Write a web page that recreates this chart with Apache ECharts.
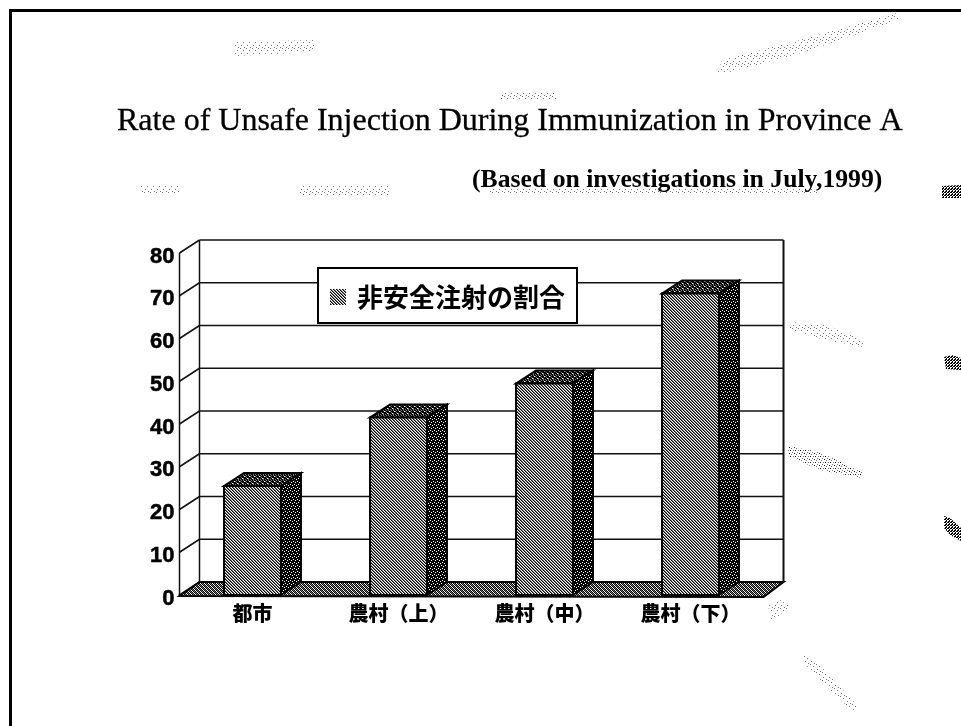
<!DOCTYPE html>
<html>
<head>
<meta charset="utf-8">
<style>
  html, body { margin: 0; padding: 0; background: #fff; }
  #chart { width: 961px; height: 726px; }
</style>
<script src="https://cdn.jsdelivr.net/npm/echarts@6/dist/echarts.min.js"></script>
</head>
<body>
<div id="chart"></div>
<script>
const categories = ["都市", "農村（上）", "農村（中）", "農村（下）"];
const unsafeRate = [25.5, 41.5, 49.5, 70.5];
const yTicks = [0, 10, 20, 30, 40, 50, 60, 70, 80];
const seriesName = "非安全注射の割合";
const titleText = "Rate of Unsafe Injection During Immunization in Province A";
const subtitleText = "(Based on investigations in July,1999)";

// 3d offset of the back wall, in pixels
const depthX = 20;
const depthY = -13;
const barShare = 0.39;

// small tiles for the printed halftone look
const makeTile = (rows, palette) => {
  const canvas = document.createElement("canvas");
  canvas.width = rows[0].length;
  canvas.height = rows.length;
  const ctx = canvas.getContext("2d");
  rows.forEach((row, y) => {
    [...row].forEach((c, x) => {
      if (palette[c]) {
        ctx.fillStyle = palette[c];
        ctx.fillRect(x, y, 1, 1);
      }
    });
  });
  return { image: canvas, repeat: "repeat" };
};

const inkOnly = { "#": "#000", "+": "#777", ".": "#fff" };
const dots = { "#": "#111", "+": "#777" };
const hatchFill = makeTile(["#+.", ".#+", "+.#"], inkOnly);
const sideFill = makeTile(["####", "#.##", "###.", "####", "##.#", ".###"], inkOnly);
const topFill = makeTile(["#+#+#", "+###.", "#+###", "##.+#", "+##+#"], inkOnly);
const floorFill = makeTile(["#.#+", "+#.#", "#+#.", ".#+#"], inkOnly);
const stippleLight = makeTile(["+     ", "      ", "   +  ", "      ", "      ", " +    ", "      ", "    + "], dots);
const stippleDark = makeTile(["#  + ", "     ", "  +  ", "    #", " +   ", "     "], dots);
const blobFill = makeTile(["#.#", ".#.", "##."], inkOnly);

const line = (x1, y1, x2, y2, width) => ({
  type: "line",
  shape: { x1, y1, x2, y2 },
  style: { stroke: "#111", lineWidth: width, fill: null },
});

const poly = (points, fill) => ({
  type: "polygon",
  shape: { points },
  style: { fill, stroke: "#000", lineWidth: 2 },
});

// back wall, left wall and floor, one pass per tick
const renderWall = (params, api) => {
  const box = params.coordSys;
  const pt = api.coord([0, api.value(1)]);
  const x0 = box.x;
  const x1 = box.x + box.width;
  const y = pt[1];
  const children = [
    line(x0, y, x0 + depthX, y + depthY, 1.5),
    line(x0 + depthX, y + depthY, x1 + depthX, y + depthY, 1.5),
  ];
  if (api.value(1) === 0) {
    const top = box.y;
    children.push(
      poly([[x0, y + 1], [x0 + depthX, y + depthY], [x1 + depthX, y + depthY], [x1, y + 2]], floorFill),
      line(x0 + depthX, top + depthY, x0 + depthX, y + depthY, 1.5),
      line(x1 + depthX, top + depthY, x1 + depthX, y + depthY, 2),
      line(x0, top, x0, y, 1.5)
    );
  }
  return { type: "group", children };
};

const renderBar = (params, api) => {
  const bottom = api.coord([api.value(0), 0]);
  const top = api.coord([api.value(0), api.value(1)]);
  const w = api.size([1, 0])[0] * barShare;
  const xl = top[0] - w / 2;
  const xr = top[0] + w / 2;
  return {
    type: "group",
    children: [
      poly([[xl, top[1]], [xr, top[1]], [xr + depthX, top[1] + depthY], [xl + depthX, top[1] + depthY]], topFill),
      poly([[xr, top[1]], [xr + depthX, top[1] + depthY], [xr + depthX, bottom[1] + depthY], [xr, bottom[1]]], sideFill),
      poly([[xl, top[1]], [xr, top[1]], [xr, bottom[1]], [xl, bottom[1]]], hatchFill),
    ],
  };
};

const speck = (points, fill) => ({
  type: "polygon",
  silent: true,
  shape: { points },
  style: { fill },
});

const chart = echarts.init(document.getElementById("chart"));

chart.setOption({
  animation: false,
  backgroundColor: "#fff",
  title: [
    {
      text: titleText,
      left: 117,
      top: 106,
      padding: 0,
      textStyle: {
        fontFamily: "Liberation Serif",
        fontSize: 32,
        fontWeight: "normal",
        color: "#000",
        textBorderColor: "#000",
        textBorderWidth: 0.3,
      },
    },
    {
      text: subtitleText,
      left: 472,
      top: 167,
      padding: 0,
      textStyle: { fontFamily: "Liberation Serif", fontSize: 25.7, fontWeight: "bold", color: "#000" },
    },
  ],
  legend: {
    left: 318,
    top: 268,
    padding: [16, 12, 13, 12],
    backgroundColor: "#fff",
    borderColor: "#000",
    borderWidth: 2,
    itemWidth: 16,
    itemHeight: 16,
    itemGap: 0,
    data: [{ name: seriesName, icon: "rect", itemStyle: { color: hatchFill } }],
    textStyle: {
      fontFamily: "Noto Sans CJK JP",
      fontSize: 26,
      fontWeight: "bold",
      color: "#000",
      padding: [0, 0, 0, 6],
    },
  },
  grid: { left: 179.5, top: 253, width: 584, height: 342 },
  xAxis: {
    type: "category",
    data: categories,
    axisTick: { show: false },
    axisLine: { show: true, lineStyle: { color: "#000", width: 2 } },
    axisLabel: {
      margin: 8,
      interval: 0,
      fontFamily: "Noto Sans CJK JP",
      fontSize: 20,
      fontWeight: 900,
      color: "#000",
    },
  },
  yAxis: {
    type: "value",
    min: 0,
    max: 80,
    interval: 10,
    axisLine: { show: false },
    axisTick: { show: false },
    splitLine: { show: false },
    axisLabel: {
      margin: 5,
      formatter: "{n|{value}}",
      rich: {
        n: {
          padding: [7, 0, 0, 0],
          fontFamily: "Liberation Sans",
          fontSize: 22,
          fontWeight: "bold",
          color: "#000",
          textBorderColor: "#000",
          textBorderWidth: 0.5,
        },
      },
    },
  },
  series: [
    {
      name: "wall",
      type: "custom",
      silent: true,
      z: 1,
      renderItem: renderWall,
      encode: { x: 0, y: 1 },
      data: yTicks.map((v) => [0, v]),
    },
    {
      name: seriesName,
      type: "custom",
      silent: true,
      z: 2,
      itemStyle: { color: "#444" },
      renderItem: renderBar,
      encode: { x: 0, y: 1 },
      data: unsafeRate.map((v, i) => [i, v]),
    },
  ],
  graphic: [
    // page frame of the scanned slide
    { type: "rect", silent: true, shape: { x: 9, y: 9, width: 952, height: 3 }, style: { fill: "#000" } },
    { type: "rect", silent: true, shape: { x: 9, y: 9, width: 3, height: 717 }, style: { fill: "#000" } },
    // scan residue
    speck([[718, 72], [722, 60], [800, 40], [897, 13], [898, 20], [805, 52], [730, 72]], stippleLight),
    speck([[790, 322], [825, 325], [863, 340], [863, 347], [825, 340], [790, 330]], stippleLight),
    speck([[788, 446], [820, 452], [862, 472], [862, 478], [820, 470], [788, 456]], stippleDark),
    speck([[803, 655], [815, 660], [857, 705], [855, 712], [840, 700], [803, 662]], stippleLight),
    speck([[768, 606], [780, 600], [790, 606], [772, 622]], stippleLight),
    speck([[235, 42], [315, 40], [315, 52], [235, 56]], stippleLight),
    speck([[500, 92], [556, 92], [556, 100], [500, 100]], stippleLight),
    speck([[140, 186], [180, 186], [180, 194], [140, 194]], stippleLight),
    speck([[300, 186], [390, 186], [390, 196], [300, 196]], stippleLight),
    speck([[490, 188], [820, 188], [820, 194], [490, 194]], stippleLight),
    speck([[942, 186], [961, 185], [961, 198], [942, 198]], blobFill),
    speck([[944, 357], [952, 355], [961, 358], [961, 370], [946, 369]], blobFill),
    speck([[944, 516], [950, 518], [961, 528], [961, 541], [950, 535], [944, 528]], blobFill),
  ],
});
</script>
</body>
</html>
